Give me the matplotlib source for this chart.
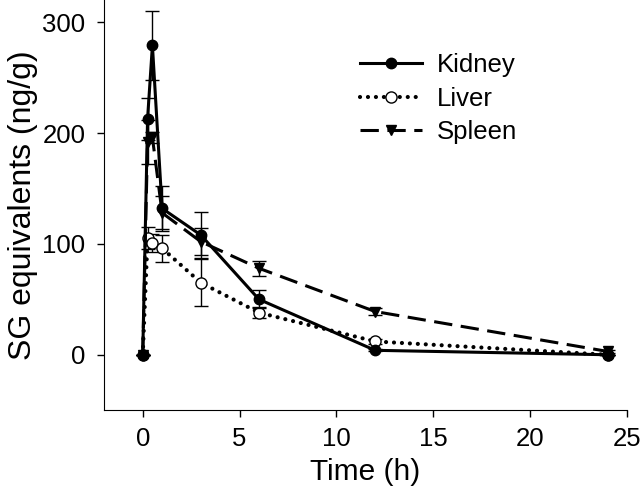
import numpy as np
import matplotlib
matplotlib.use("Agg")
import matplotlib.pyplot as plt

plt.rcParams['font.family'] = ['Liberation Sans', 'DejaVu Sans']

# sampling times (h)
time_h = [0, 0.25, 0.5, 1, 3, 6, 12, 24]

kidney = [0, 213, 279, 132, 108, 50, 4, 0]
kidney_err = [0, 19, 31, 20, 21, 8, 1, 0]

liver = [0, 105, 101, 96, 65, 38, 12, 0]
liver_err = [0, 10, 8, 12, 21, 5, 2, 0]

spleen = [0, 192, 196, 128, 102, 78, 39, 3]
spleen_err = [0, 20, 5, 15, 12, 7, 3, 1]

fig = plt.figure(figsize=(6.4, 4.93), dpi=100)
ax = fig.add_axes([0.1625, 0.168, 0.817, 0.832])

k = ax.errorbar(time_h, kidney, yerr=kidney_err, color='black', lw=2.2,
                marker='o', ms=7.5, mfc='black', mec='black',
                ecolor='black', elinewidth=1, capsize=5, capthick=1,
                zorder=3)
l = ax.errorbar(time_h, liver, yerr=liver_err, color='black', lw=3,
                linestyle=(0, (0.01, 1.9)), dash_capstyle='round',
                marker='o', ms=8, mfc='white', mec='black', mew=1,
                ecolor='black', elinewidth=1, capsize=5, capthick=1,
                zorder=2)
s = ax.errorbar(time_h, spleen, yerr=spleen_err, color='black', lw=2.2,
                linestyle=(0, (6, 2.8)),
                marker='v', ms=7.5, mfc='black', mec='black',
                ecolor='black', elinewidth=1, capsize=5, capthick=1,
                zorder=2)

ax.set_xlim(-2, 25)
ax.set_ylim(-50, 320)
ax.set_xticks([0, 5, 10, 15, 20, 25])
ax.set_yticks([0, 100, 200, 300])
ax.spines['top'].set_visible(False)
ax.spines['right'].set_visible(False)
ax.tick_params(direction='out', length=5, width=1, labelsize=18.5)
ax.tick_params(axis='y', pad=8.5)
ax.tick_params(axis='x', pad=7)

ax.set_xlabel('Time (h)', fontsize=21.5, labelpad=5)
ax.set_ylabel('SG equivalents (ng/g)', fontsize=23, labelpad=3)

ax.legend([k[0], l[0], s[0]], ['Kidney', 'Liver', 'Spleen'],
          loc='upper left', bbox_to_anchor=(0.47, 0.895), frameon=False,
          fontsize=18.5, handlelength=2.4, handletextpad=0.58,
          labelspacing=0.36, borderaxespad=0)

fig.savefig('out.png', dpi=100)
